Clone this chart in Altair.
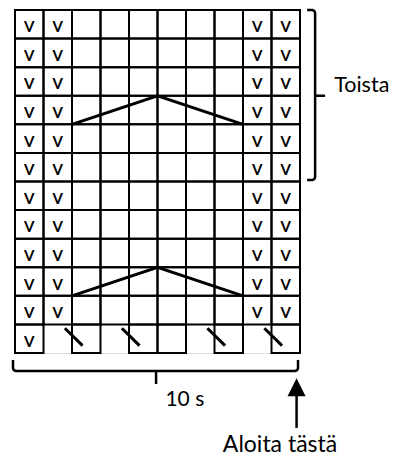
import altair as alt
import pandas as pd

# ---- chart content ----
N_COLS = 10
N_ROWS = 12
BOTTOM_BOXES = [1, 3, 5, 6, 8, 10]          # boxed cells in the first (bottom) row
V_ALL_ROWS = [1]                            # columns with "V" in every row
V_FROM_ROW2 = [2, 9, 10]                    # columns with "V" from row 2 upward
SLASH_BOX_COLS = [3, 5, 8, 10]              # slash crosses the left edge of these boxes (row 1)
ZIGZAG_BASE_ROWS = [2, 8]                   # row line where each zigzag starts/ends
ZIGZAG_COLS = [2, 5, 8]                     # start, peak, end column lines
REPEAT_ROWS = [6, 12]                       # rows covered by the "Toista" bracket
LABEL_REPEAT = "Toista"
LABEL_WIDTH = "10 s"
LABEL_START = "Aloita tästä"
SYMBOL = "V"

# ---- build tables ----
cells = pd.DataFrame(
    [dict(x=c - 1, x2=c, y=r - 1, y2=r)
     for r in range(1, N_ROWS + 1) for c in range(1, N_COLS + 1)
     if r > 1 or c in BOTTOM_BOXES]
)

vs = []
for c in V_ALL_ROWS:
    for r in range(1, N_ROWS + 1):
        vs.append(dict(x=c - 0.5, y=r - 0.5, t=SYMBOL))
for c in V_FROM_ROW2:
    for r in range(2, N_ROWS + 1):
        vs.append(dict(x=c - 0.5, y=r - 0.5, t=SYMBOL))
vs = pd.DataFrame(vs)

zz = []
for g, b in enumerate(ZIGZAG_BASE_ROWS):
    for i, (cx, dy) in enumerate(zip(ZIGZAG_COLS, [0, 1, 0])):
        zz.append(dict(x=cx, y=b + dy, g=g, o=i))
zz = pd.DataFrame(zz)

slashes = pd.DataFrame(
    [dict(x=c - 1 - 0.25, x2=c - 1 + 0.37, y=0.865, y2=0.26) for c in SLASH_BOX_COLS]
)

# brackets (paths in grid units)
xb, xh = 10.53, 10.25
y0, y1 = REPEAT_ROWS[0] + 0.05, REPEAT_ROWS[1]
right_br = [(xh, y1), (xb - 0.1, y1), (xb - 0.03, y1 - 0.03), (xb, y1 - 0.1),
            (xb, y0 + 0.1), (xb - 0.03, y0 + 0.03), (xb - 0.1, y0), (xh, y0)]
yb, ye = -0.63, -0.245
xl, xr = -0.07, 9.93
bottom_br = [(xl, ye), (xl, yb + 0.1), (xl + 0.03, yb + 0.03), (xl + 0.1, yb),
             (xr - 0.1, yb), (xr - 0.03, yb + 0.03), (xr, yb + 0.1), (xr, ye)]
br = pd.DataFrame(
    [dict(x=p[0], y=p[1], g=0, o=i) for i, p in enumerate(right_br)] +
    [dict(x=p[0], y=p[1], g=1, o=i) for i, p in enumerate(bottom_br)]
)
mid = (REPEAT_ROWS[0] + REPEAT_ROWS[1]) / 2
ticks = pd.DataFrame([
    dict(x=xb, x2=10.88, y=mid, y2=mid),
    dict(x=4.95, x2=4.95, y=yb, y2=-1.085),
    dict(x=xr - 0.05, x2=xr - 0.05, y=-2.62, y2=-1.4),
])
head = pd.DataFrame([dict(x=xr - 0.05, y=-1.2)])
lab_left = pd.DataFrame([dict(x=11.2, y=9.13, t=LABEL_REPEAT)])
lab_mid = pd.DataFrame([dict(x=5.96, y=-1.854, t=LABEL_WIDTH)])
lab_start = pd.DataFrame([dict(x=9.30, y=-3.47, t=LABEL_START)])

xs = alt.Scale(domain=[0, N_COLS], nice=False, zero=False)
ys = alt.Scale(domain=[0, N_ROWS], nice=False, zero=False)
X = lambda f="x": alt.X(f"{f}:Q", scale=xs, axis=None)
Y = lambda f="y": alt.Y(f"{f}:Q", scale=ys, axis=None)

grid = alt.Chart(cells).mark_rect(fillOpacity=0, stroke="black", strokeWidth=2).encode(
    x=X(), x2="x2:Q", y=Y(), y2="y2:Q")
vtext = alt.Chart(vs).mark_text(font="Lato", fontSize=15, fontWeight="bold", align="center",
                                baseline="middle", dy=3, color="black").encode(
    x=X(), y=Y(), text="t:N")
zig = alt.Chart(zz).mark_line(color="black", strokeWidth=3).encode(
    x=X(), y=Y(), detail="g:N", order="o:Q")
sl = alt.Chart(slashes).mark_rule(color="black", strokeWidth=3).encode(
    x=X(), x2="x2:Q", y=Y(), y2="y2:Q")
brackets = alt.Chart(br).mark_line(color="black", strokeWidth=2.5, strokeJoin="round").encode(
    x=X(), y=Y(), detail="g:N", order="o:Q")
tk = alt.Chart(ticks).mark_rule(color="black", strokeWidth=2.5).encode(
    x=X(), x2="x2:Q", y=Y(), y2="y2:Q")
hd = alt.Chart(head).mark_point(shape="M0,-1L-1,1L1,1Z", size=324, filled=True, color="black",
                                opacity=1).encode(x=X(), y=Y())
t1 = alt.Chart(lab_left).mark_text(font="Lato", fontSize=21.5, align="left", baseline="alphabetic",
                                   color="black").encode(x=X(), y=Y(), text="t:N")
t2 = alt.Chart(lab_mid).mark_text(font="Lato", fontSize=21, align="center", baseline="alphabetic",
                                  color="black").encode(x=X(), y=Y(), text="t:N")
t3 = alt.Chart(lab_start).mark_text(font="Lato", fontSize=23, align="center", baseline="alphabetic",
                                    color="black").encode(x=X(), y=Y(), text="t:N")

chart = alt.layer(grid, vtext, zig, sl, brackets, tk, hd, t1, t2, t3).properties(
    width=285, height=343,
    padding={"left": 7, "top": 2, "right": 93, "bottom": 105},
    autosize=alt.AutoSizeParams(type="none"),
).configure_view(stroke=None).configure(background="white")

chart.save("out.html", embed_options={"renderer": "svg", "actions": False})
